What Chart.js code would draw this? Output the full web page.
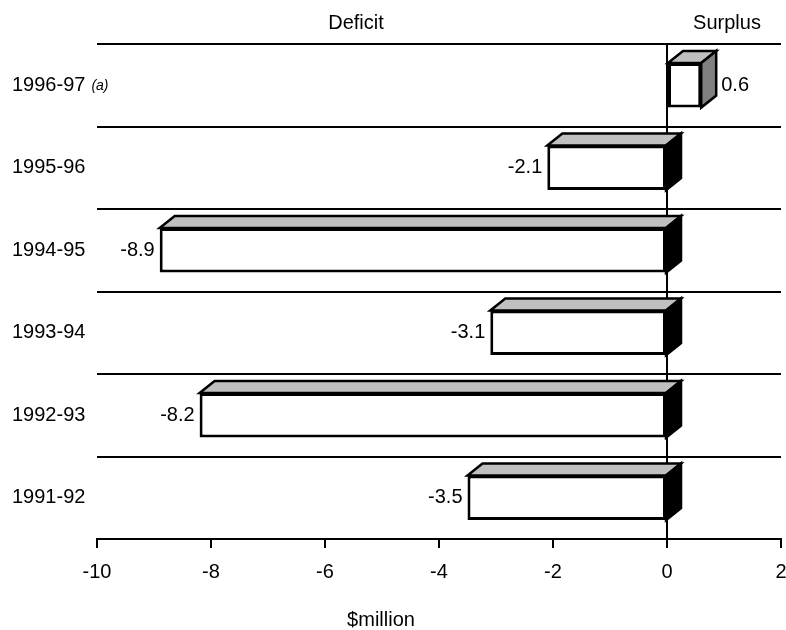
<!DOCTYPE html>
<html>
<head>
<meta charset="utf-8">
<script src="https://cdn.jsdelivr.net/npm/chart.js@4.4.1/dist/chart.umd.min.js"></script>
<style>
  html, body { margin: 0; padding: 0; background: #fff; }
  #wrap { width: 786px; height: 630px; }
</style>
</head>
<body>
<div id="wrap"><canvas id="c" width="786" height="630"></canvas></div>
<script>
const categories = ['1996-97', '1995-96', '1994-95', '1993-94', '1992-93', '1991-92'];
const categoryNotes = ['(a)', '', '', '', '', ''];
const values = [0.6, -2.1, -8.9, -3.1, -8.2, -3.5];
const valueLabels = ['0.6', '-2.1', '-8.9', '-3.1', '-8.2', '-3.5'];
const xTicks = [-10, -8, -6, -4, -2, 0, 2];
const headerLeft = 'Deficit';
const headerRight = 'Surplus';
const axisTitle = '$million';

const FONT = 'Liberation Sans, Arial, sans-serif';
const FS = 20;
const DX = 15, DY = 12;

const bar3d = {
  id: 'bar3d',
  afterDatasetsDraw(chart) {
    const ctx = chart.ctx;
    const meta = chart.getDatasetMeta(0);
    ctx.save();
    ctx.lineWidth = 2.5;
    ctx.strokeStyle = '#000';
    ctx.lineJoin = 'miter';
    meta.data.forEach((el, i) => {
      const p = el.getProps(['x', 'y', 'base', 'height'], true);
      const top = p.y - p.height / 2, bot = p.y + p.height / 2;
      const left = Math.min(p.x, p.base), right = Math.max(p.x, p.base);
      // top face
      ctx.beginPath();
      ctx.moveTo(left, top);
      ctx.lineTo(left + DX, top - DY);
      ctx.lineTo(right + DX, top - DY);
      ctx.lineTo(right, top);
      ctx.closePath();
      ctx.fillStyle = '#c0c0c0';
      ctx.fill();
      ctx.stroke();
      // side face
      ctx.beginPath();
      ctx.moveTo(right, top);
      ctx.lineTo(right + DX, top - DY);
      ctx.lineTo(right + DX, bot - DY);
      ctx.lineTo(right, bot);
      ctx.closePath();
      ctx.fillStyle = values[i] < 0 ? '#000' : '#808080';
      ctx.fill();
      ctx.stroke();
      // value label
      ctx.fillStyle = '#000';
      ctx.font = FS + 'px ' + FONT;
      ctx.textBaseline = 'middle';
      if (values[i] < 0) {
        ctx.textAlign = 'right';
        ctx.fillText(valueLabels[i], left - 5, p.y);
      } else {
        ctx.textAlign = 'left';
        ctx.fillText(valueLabels[i], right + DX + 5, p.y);
      }
    });
    // category labels
    const ys = chart.scales.y;
    categories.forEach((c, i) => {
      const y = ys.getPixelForValue(i);
      ctx.font = FS + 'px ' + FONT;
      ctx.textAlign = 'left';
      ctx.textBaseline = 'middle';
      ctx.fillStyle = '#000';
      ctx.fillText(c, 12, y);
      if (categoryNotes[i]) {
        const w = ctx.measureText(c).width;
        ctx.font = 'italic 14px ' + FONT;
        ctx.fillText(categoryNotes[i], 12 + w + 6, y + 1);
      }
    });
    // headers
    ctx.font = FS + 'px ' + FONT;
    ctx.textAlign = 'center';
    ctx.textBaseline = 'middle';
    ctx.fillText(headerLeft, 356, 23);
    ctx.fillText(headerRight, 727, 23);
    ctx.fillText(axisTitle, 381, 620);
    ctx.restore();
  }
};

new Chart(document.getElementById('c'), {
  type: 'bar',
  data: {
    labels: categories,
    datasets: [{
      data: values,
      backgroundColor: '#fff',
      borderColor: '#000',
      borderWidth: 3,
      borderSkipped: false,
      barPercentage: 0.54,
      categoryPercentage: 1.0
    }]
  },
  plugins: [bar3d],
  options: {
    indexAxis: 'y',
    responsive: false,
    animation: false,
    layout: { padding: { left: 97, right: 5, top: 44, bottom: 0 } },
    plugins: { legend: { display: false }, tooltip: { enabled: false } },
    scales: {
      x: {
        min: -10, max: 2,
        afterBuildTicks: s => { s.ticks = xTicks.map(v => ({ value: v })); },
        afterFit: s => { s.height = 91; s.paddingLeft = 0; s.paddingRight = 0; },
        border: { display: true, color: '#000', width: 2 },
        grid: {
          color: c => (c.tick && c.tick.value === 0) ? '#000' : 'rgba(0,0,0,0)',
          lineWidth: 2,
          drawTicks: true,
          tickLength: 9,
          tickColor: '#000',
          tickWidth: 2
        },
        ticks: { color: '#000', font: { family: FONT, size: FS }, padding: 12, maxRotation: 0 }
      },
      y: {
        afterFit: s => { s.width = 0; },
        border: { display: false },
        grid: { color: '#000', lineWidth: 2, offset: true, drawTicks: false },
        ticks: { display: false }
      }
    }
  }
});
</script>
</body>
</html>
